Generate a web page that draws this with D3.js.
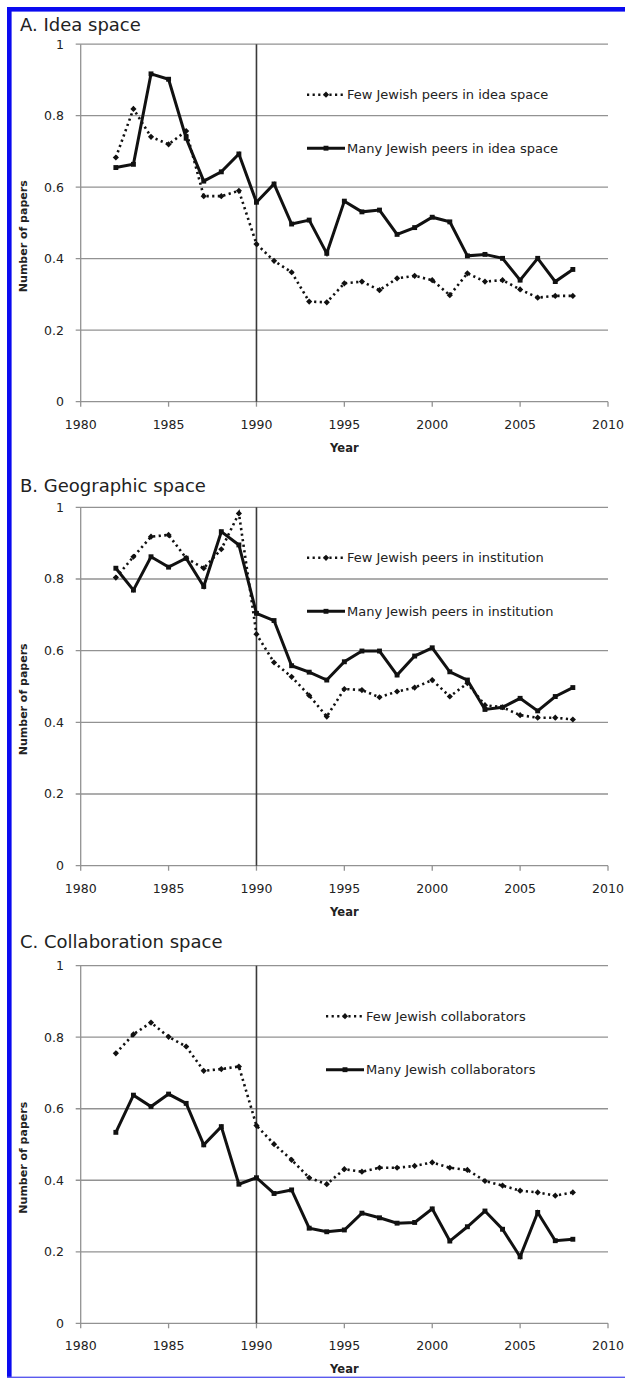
<!DOCTYPE html>
<html>
<head>
<meta charset="utf-8">
<script src="https://cdn.jsdelivr.net/npm/d3@7"></script>
<style>
  body { margin: 0; background: #fff; }
  svg { display: block; }
</style>
</head>
<body>
<svg id="chart" width="625" height="1378"></svg>
<script>
(function(){
    'use strict';

    // categories
    const years = [1982, 1983, 1984, 1985, 1986, 1987, 1988, 1989, 1990, 1991, 1992, 1993, 1994,
                   1995, 1996, 1997, 1998, 1999, 2000, 2001, 2002, 2003, 2004, 2005, 2006, 2007, 2008];

    // A. idea space
    const ideaFew  = [0.683, 0.819, 0.741, 0.720, 0.757, 0.575, 0.575, 0.590, 0.441, 0.394, 0.362, 0.280, 0.278,
                      0.331, 0.336, 0.312, 0.345, 0.352, 0.340, 0.298, 0.359, 0.336, 0.340, 0.314, 0.291, 0.296, 0.296];
    const ideaMany = [0.655, 0.664, 0.917, 0.902, 0.737, 0.617, 0.643, 0.693, 0.558, 0.609, 0.497, 0.508, 0.415,
                      0.561, 0.531, 0.536, 0.468, 0.487, 0.516, 0.503, 0.408, 0.412, 0.401, 0.340, 0.401, 0.336, 0.370];

    // B. geographic space
    const geoFew  = [0.804, 0.862, 0.918, 0.923, 0.858, 0.830, 0.883, 0.983, 0.646, 0.567, 0.527, 0.475, 0.416,
                     0.493, 0.490, 0.470, 0.486, 0.497, 0.518, 0.472, 0.509, 0.448, 0.442, 0.420, 0.413, 0.413, 0.408];
    const geoMany = [0.830, 0.769, 0.862, 0.833, 0.858, 0.779, 0.932, 0.895, 0.704, 0.684, 0.558, 0.540, 0.518,
                     0.569, 0.599, 0.599, 0.532, 0.585, 0.608, 0.541, 0.518, 0.436, 0.442, 0.467, 0.432, 0.472, 0.497];

    // C. collaboration space
    const collabFew  = [0.755, 0.808, 0.841, 0.801, 0.774, 0.706, 0.711, 0.718, 0.553, 0.501, 0.457, 0.407, 0.389,
                        0.431, 0.424, 0.435, 0.435, 0.440, 0.450, 0.435, 0.429, 0.398, 0.385, 0.371, 0.366, 0.357, 0.366];
    const collabMany = [0.534, 0.638, 0.606, 0.641, 0.615, 0.499, 0.550, 0.389, 0.407, 0.363, 0.373, 0.266, 0.256,
                        0.261, 0.308, 0.295, 0.280, 0.282, 0.320, 0.230, 0.270, 0.314, 0.263, 0.186, 0.310, 0.231, 0.235];

    const titles     = ['A. Idea space', 'B. Geographic space', 'C. Collaboration space'];
    const fewLabels  = ['Few Jewish peers in idea space', 'Few Jewish peers in institution', 'Few Jewish collaborators'];
    const manyLabels = ['Many Jewish peers in idea space', 'Many Jewish peers in institution', 'Many Jewish collaborators'];

    const xTicks = [1980, 1985, 1990, 1995, 2000, 2005, 2010];
    const yTicks = [0, 0.2, 0.4, 0.6, 0.8, 1];
    const yTickLabels = ['0', '0.2', '0.4', '0.6', '0.8', '1'];
    const markerYear = 1990;

    // layout per panel (pixel positions)
    const panels = [
        { title: titles[0], few: ideaFew,   many: ideaMany,   fewLabel: fewLabels[0], manyLabel: manyLabels[0], top: 44.2,  bottom: 401.7,  titleY: 30.7,  legendX: 307 },
        { title: titles[1], few: geoFew,    many: geoMany,    fewLabel: fewLabels[1], manyLabel: manyLabels[1], top: 507.3, bottom: 865.7,  titleY: 492.3, legendX: 307 },
        { title: titles[2], few: collabFew, many: collabMany, fewLabel: fewLabels[2], manyLabel: manyLabels[2], top: 965.7, bottom: 1323.3, titleY: 948.3, legendX: 326 }
    ];

    const svg = d3.select('#chart');
    const gridColor = '#929292';
    const textColor = '#222';
    const tickFont = '"DejaVu Sans", sans-serif';

    const x = d3.scaleLinear().domain([1980, 2010]).range([80.7, 608]);

    const diamond = d3.symbol(d3.symbolSquare, 19);
    const square = d3.symbol(d3.symbolSquare, 24);

    // blue frame round the figure
    svg.append('rect').attr('x', 7).attr('y', 7).attr('width', 4.6).attr('height', 1371).attr('fill', '#0a0af0');
    svg.append('rect').attr('x', 7).attr('y', 7).attr('width', 618).attr('height', 4.6).attr('fill', '#0a0af0');
    svg.append('rect').attr('x', 7).attr('y', 1376.6).attr('width', 618).attr('height', 1.4).attr('fill', '#5a5aee');

    function drawPanel(p) {
        const g = svg.append('g');
        const y = d3.scaleLinear().domain([0, 1]).range([p.bottom, p.top]);

        // title
        g.append('text')
            .attr('x', 20).attr('y', p.titleY)
            .style('font-family', '"DejaVu Sans", sans-serif')
            .style('font-size', '18px')
            .style('fill', textColor)
            .text(p.title);

        // gridlines
        g.selectAll('line.grid')
            .data(yTicks)
            .join('line')
            .attr('class', 'grid')
            .attr('x1', x(1980) - 5).attr('x2', x(2010))
            .attr('y1', d => y(d)).attr('y2', d => y(d))
            .attr('stroke', gridColor)
            .attr('stroke-width', 1.3);

        // y axis line
        g.append('line')
            .attr('x1', x(1980)).attr('x2', x(1980))
            .attr('y1', y(1)).attr('y2', y(0))
            .attr('stroke', gridColor).attr('stroke-width', 1.3);

        // x ticks
        g.selectAll('line.xtick')
            .data(xTicks)
            .join('line')
            .attr('class', 'xtick')
            .attr('x1', d => x(d)).attr('x2', d => x(d))
            .attr('y1', y(0)).attr('y2', y(0) + 5)
            .attr('stroke', gridColor).attr('stroke-width', 1.3);

        // y tick labels
        g.selectAll('text.ylab')
            .data(yTicks)
            .join('text')
            .attr('class', 'ylab')
            .attr('x', 64).attr('y', d => y(d))
            .attr('dy', '0.35em')
            .attr('text-anchor', 'end')
            .style('font-family', tickFont)
            .style('font-size', '12.5px')
            .style('fill', textColor)
            .text((d, i) => yTickLabels[i]);

        // x tick labels
        g.selectAll('text.xlab')
            .data(xTicks)
            .join('text')
            .attr('class', 'xlab')
            .attr('x', d => x(d)).attr('y', y(0) + 22.5)
            .attr('dy', '0.35em')
            .attr('text-anchor', 'middle')
            .style('font-family', tickFont)
            .style('font-size', '12.5px')
            .style('fill', textColor)
            .text(d => d);

        // axis titles
        g.append('text')
            .attr('x', (x(1980) + x(2010)) / 2).attr('y', y(0) + 46)
            .attr('dy', '0.35em')
            .attr('text-anchor', 'middle')
            .style('font-family', tickFont)
            .style('font-size', '11.5px')
            .style('font-weight', 'bold')
            .style('fill', textColor)
            .text('Year');

        g.append('text')
            .attr('transform', 'translate(23,' + (p.top + 192) + ') rotate(-90)')
            .attr('dy', '0.35em')
            .attr('text-anchor', 'middle')
            .style('font-family', tickFont)
            .style('font-size', '11px')
            .style('font-weight', 'bold')
            .style('fill', textColor)
            .text('Number of papers');

        // 1990 marker line
        g.append('line')
            .attr('x1', x(markerYear)).attr('x2', x(markerYear))
            .attr('y1', y(1)).attr('y2', y(0))
            .attr('stroke', '#3a3a3a').attr('stroke-width', 1.6);

        const line = d3.line()
            .x((d, i) => x(years[i]))
            .y(d => y(d));

        // few: dotted with diamonds
        g.append('path')
            .attr('d', line(p.few))
            .attr('fill', 'none')
            .attr('stroke', '#111')
            .attr('stroke-width', 2.6)
            .attr('stroke-dasharray', '2.2,3.4');

        g.selectAll('path.fewmark')
            .data(p.few)
            .join('path')
            .attr('class', 'fewmark')
            .attr('transform', (d, i) => 'translate(' + x(years[i]) + ',' + y(d) + ') rotate(45)')
            .attr('d', diamond)
            .attr('fill', '#111');

        // many: solid with squares
        g.append('path')
            .attr('d', line(p.many))
            .attr('fill', 'none')
            .attr('stroke', '#111')
            .attr('stroke-width', 3)
            .attr('stroke-linejoin', 'miter');

        g.selectAll('path.manymark')
            .data(p.many)
            .join('path')
            .attr('class', 'manymark')
            .attr('transform', (d, i) => 'translate(' + x(years[i]) + ',' + y(d) + ')')
            .attr('d', square)
            .attr('fill', '#111');

        // legend
        const lx = p.legendX;
        const ly1 = p.top + 50.5;
        const ly2 = p.top + 104;

        g.append('line')
            .attr('x1', lx).attr('x2', lx + 38)
            .attr('y1', ly1).attr('y2', ly1)
            .attr('stroke', '#111').attr('stroke-width', 2.6)
            .attr('stroke-dasharray', '2.2,3.4');
        g.append('path')
            .attr('transform', 'translate(' + (lx + 19) + ',' + ly1 + ') rotate(45)')
            .attr('d', diamond)
            .attr('fill', '#111');
        g.append('text')
            .attr('x', lx + 40).attr('y', ly1)
            .attr('dy', '0.35em')
            .style('font-family', tickFont)
            .style('font-size', '13px')
            .style('fill', textColor)
            .text(p.fewLabel);

        g.append('line')
            .attr('x1', lx).attr('x2', lx + 38)
            .attr('y1', ly2).attr('y2', ly2)
            .attr('stroke', '#111').attr('stroke-width', 3);
        g.append('path')
            .attr('transform', 'translate(' + (lx + 19) + ',' + ly2 + ')')
            .attr('d', square)
            .attr('fill', '#111');
        g.append('text')
            .attr('x', lx + 40).attr('y', ly2)
            .attr('dy', '0.35em')
            .style('font-family', tickFont)
            .style('font-size', '13px')
            .style('fill', textColor)
            .text(p.manyLabel);
    }

    panels.forEach(drawPanel);
})();
</script>
</body>
</html>
